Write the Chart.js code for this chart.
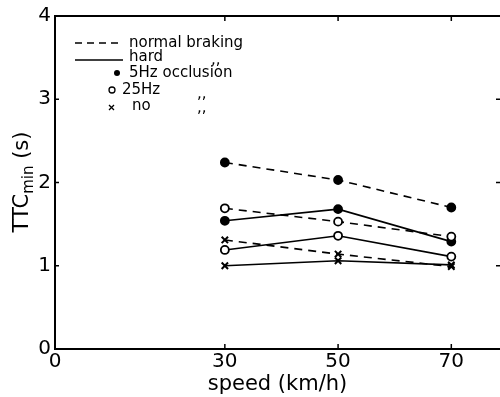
<!DOCTYPE html>
<html>
<head>
<meta charset="utf-8">
<script src="https://cdn.jsdelivr.net/npm/chart.js@4.4.1/dist/chart.umd.min.js"></script>
<style>
  html, body { margin: 0; padding: 0; background: #fff; }
  #wrap { width: 500px; height: 397px; position: relative; }
</style>
</head>
<body>
<div id="wrap"><canvas id="ttcChart"></canvas></div>
<script>
// data
const speeds = [30, 50, 70];
const normal5Hz = [2.24, 2.03, 1.70];
const normal25Hz = [1.69, 1.53, 1.35];
const normalNo = [1.31, 1.14, 0.99];
const hard5Hz = [1.54, 1.68, 1.29];
const hard25Hz = [1.19, 1.36, 1.11];
const hardNo = [1.00, 1.06, 1.01];
const xTicks = [0, 30, 50, 70];
const yTicks = [0, 1, 2, 3, 4];

const FONT = "'DejaVu Sans', sans-serif";

function pts(values) {
    return speeds.map((s, i) => ({ x: s, y: values[i] }));
}

function series(label, values, dashed, style, filled) {
    return {
        label: label,
        data: pts(values),
        borderColor: '#000',
        borderWidth: 1.6,
        borderDash: dashed ? [8, 6] : [],
        pointStyle: style,
        pointRadius: style === 'crossRot' ? 4.5 : 4,
        pointBorderWidth: style === 'crossRot' ? 2 : 1.8,
        pointBackgroundColor: filled ? '#000' : '#fff',
        pointBorderColor: '#000',
        fill: false,
        tension: 0
    };
}

// axes decoration, legend and y title
const decorations = {
    id: 'decorations',
    afterDraw(chart) {
        const ctx = chart.ctx;
        const area = chart.chartArea;
        const xs = chart.scales.x;
        const ys = chart.scales.y;
        ctx.save();
        ctx.strokeStyle = '#000';
        ctx.fillStyle = '#000';

        // top frame line
        ctx.lineWidth = 2;
        ctx.beginPath();
        ctx.moveTo(area.left, area.top);
        ctx.lineTo(area.right, area.top);
        ctx.stroke();

        // inward ticks
        ctx.lineWidth = 1.5;
        yTicks.forEach(v => {
            if (v === 0 || v === 4) return;
            const py = ys.getPixelForValue(v);
            ctx.beginPath();
            ctx.moveTo(area.left, py);
            ctx.lineTo(area.left + 4, py);
            ctx.moveTo(area.right, py);
            ctx.lineTo(area.right - 4, py);
            ctx.stroke();
        });
        xTicks.forEach(v => {
            if (v === 0) return;
            const px = xs.getPixelForValue(v);
            ctx.beginPath();
            ctx.moveTo(px, area.bottom);
            ctx.lineTo(px, area.bottom - 5);
            ctx.moveTo(px, area.top);
            ctx.lineTo(px, area.top + 5);
            ctx.stroke();
        });

        // legend
        ctx.font = '15px ' + FONT;
        ctx.textBaseline = 'middle';
        ctx.lineWidth = 1.6;
        ctx.setLineDash([7, 5]);
        ctx.beginPath();
        ctx.moveTo(75, 43);
        ctx.lineTo(123, 43);
        ctx.stroke();
        ctx.setLineDash([]);
        ctx.fillText('normal braking', 129, 43);

        ctx.beginPath();
        ctx.moveTo(75, 60);
        ctx.lineTo(123, 60);
        ctx.stroke();
        ctx.fillText('hard', 129, 57);
        ctx.fillText(',,', 211, 60);

        ctx.beginPath();
        ctx.arc(117, 73, 3, 0, Math.PI * 2);
        ctx.fill();
        ctx.fillText('5Hz occlusion', 129, 73);

        ctx.lineWidth = 1.3;
        ctx.beginPath();
        ctx.arc(112, 90, 3, 0, Math.PI * 2);
        ctx.stroke();
        ctx.fillText('25Hz', 122, 90);
        ctx.fillText(',,', 197, 94);

        ctx.beginPath();
        ctx.moveTo(109, 105);
        ctx.lineTo(114, 110);
        ctx.moveTo(114, 105);
        ctx.lineTo(109, 110);
        ctx.stroke();
        ctx.fillText('no', 132, 106);
        ctx.fillText(',,', 197, 108);

        // y axis title with subscript
        ctx.translate(28, 182);
        ctx.rotate(-Math.PI / 2);
        ctx.textBaseline = 'alphabetic';
        const big = '21px ' + FONT;
        const small = '15px ' + FONT;
        ctx.font = big;
        const w1 = ctx.measureText('TTC').width;
        const w3 = ctx.measureText(' (s)').width;
        ctx.font = small;
        const w2 = ctx.measureText('min').width;
        let x0 = -(w1 + w2 + w3) / 2;
        ctx.font = big;
        ctx.fillText('TTC', x0, 0);
        ctx.font = small;
        ctx.fillText('min', x0 + w1, 5);
        ctx.font = big;
        ctx.fillText(' (s)', x0 + w1 + w2, 0);

        ctx.restore();
    }
};

const ctx = document.getElementById('ttcChart').getContext('2d');
new Chart(ctx, {
    type: 'line',
    data: {
        datasets: [
            series('normal 5Hz', normal5Hz, true, 'circle', true),
            series('normal 25Hz', normal25Hz, true, 'circle', false),
            series('normal no', normalNo, true, 'crossRot', false),
            series('hard 5Hz', hard5Hz, false, 'circle', true),
            series('hard 25Hz', hard25Hz, false, 'circle', false),
            series('hard no', hardNo, false, 'crossRot', false)
        ]
    },
    options: {
        responsive: true,
        maintainAspectRatio: false,
        animation: false,
        layout: { autoPadding: false, padding: { top: 16, right: 0, left: 0, bottom: 0 } },
        scales: {
            x: {
                type: 'linear',
                min: 0,
                max: 78.6,
                afterBuildTicks: (s) => { s.ticks = xTicks.map(v => ({ value: v })); },
                afterFit: (s) => { s.height = 48; s.paddingRight = 0; s.paddingLeft = 0; },
                grid: { display: false, drawTicks: false },
                border: { display: true, color: '#000', width: 2 },
                ticks: {
                    color: '#000',
                    font: { family: FONT, size: 20 },
                    padding: 1,
                    maxRotation: 0,
                    autoSkip: false
                },
                title: {
                    display: true,
                    text: 'speed (km/h)',
                    color: '#000',
                    font: { family: FONT, size: 21 },
                    padding: { top: -5, bottom: 0 }
                }
            },
            y: {
                min: 0,
                max: 4,
                afterBuildTicks: (s) => { s.ticks = yTicks.map(v => ({ value: v })); },
                afterFit: (s) => { s.width = 55; },
                grid: { display: false, drawTicks: false },
                border: { display: true, color: '#000', width: 2 },
                ticks: {
                    color: '#000',
                    font: { family: FONT, size: 20 },
                    padding: 4
                }
            }
        },
        plugins: {
            legend: { display: false },
            tooltip: { enabled: false }
        }
    },
    plugins: [decorations]
});
</script>
</body>
</html>
